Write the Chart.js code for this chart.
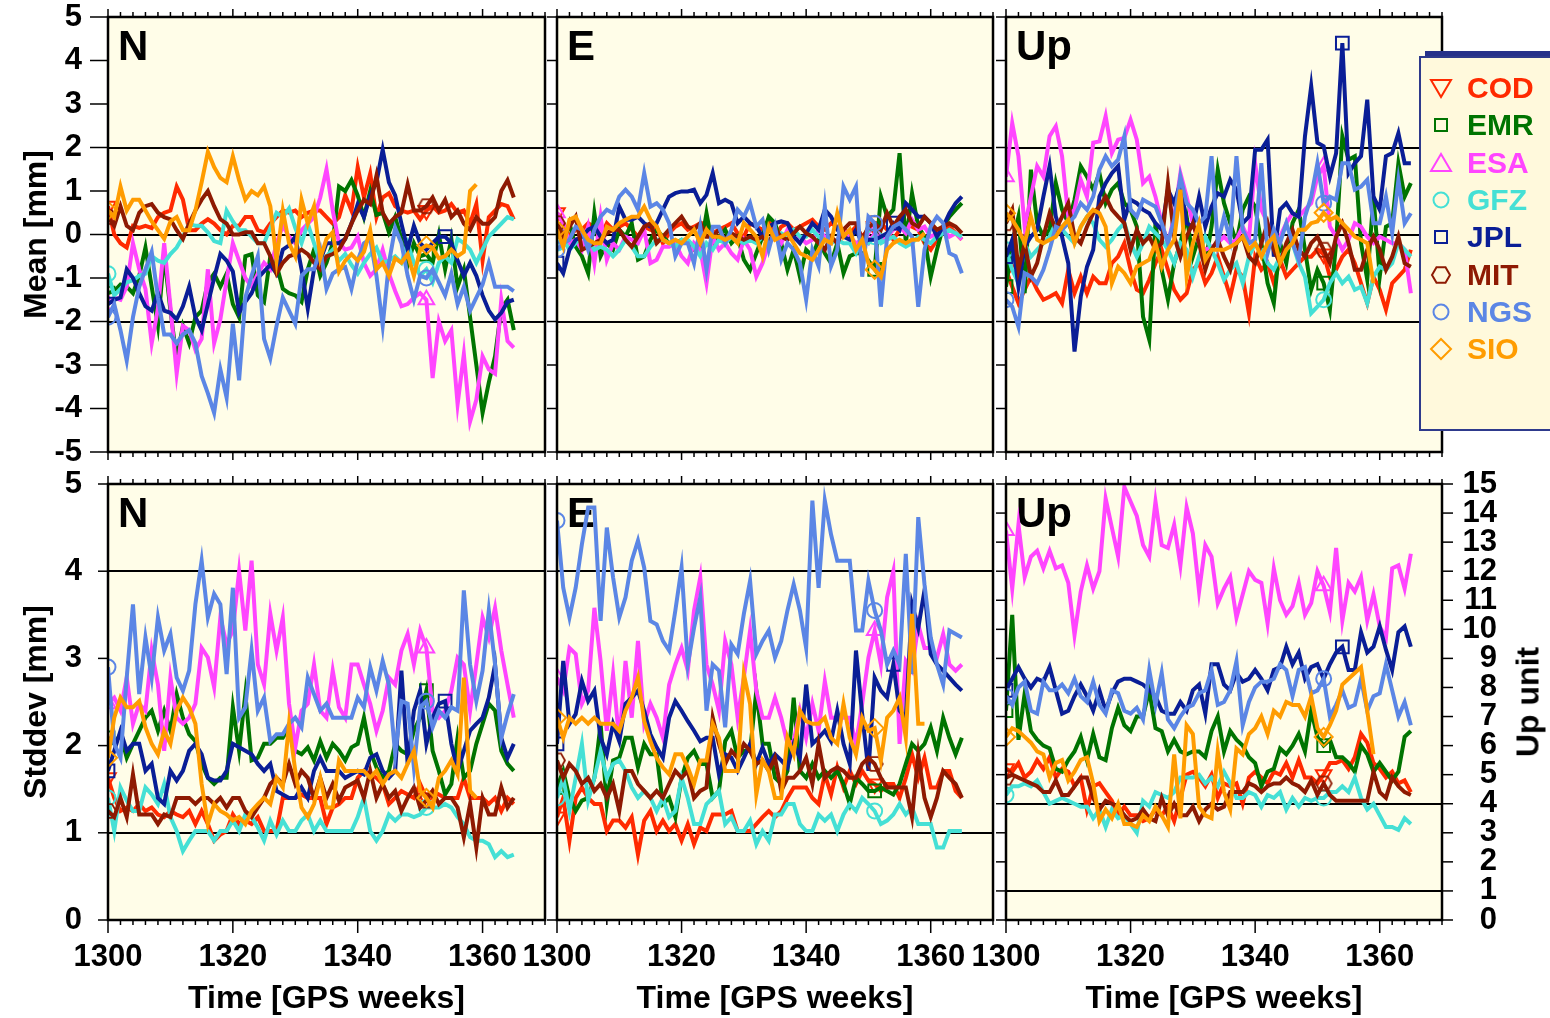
<!DOCTYPE html>
<html>
<head>
<meta charset="utf-8">
<title>Weekly orbit comparison: mean and stddev per centre</title>
<script src="https://cdn.jsdelivr.net/npm/chart.js@4.4.1/dist/chart.umd.min.js"></script>
<style>
  body { margin: 0; background: #fff; overflow: hidden; }
  #page { position: relative; width: 1550px; height: 1018px; overflow: hidden;
          font-family: 'Liberation Sans', Helvetica, Arial, sans-serif; }
  #page canvas { position: absolute; left: 0; top: 0; z-index: 1; }
  #legend { position: absolute; z-index: 5; left: 1419px; top: 56px; width: 150px; height: 371px;
            background: #fff9dc; border: 2px solid #2e3a8c; box-shadow: 6px -5px 0 #26318a; }
  #legend .item { position: absolute; left: 0; height: 36px; display: flex; align-items: center;
                  font-weight: bold; font-size: 30px; white-space: nowrap; }
  #legend svg { margin-left: 8px; margin-right: 14px; }
  #upunit { position: absolute; z-index: 5; left: 1528px; top: 702px; transform: translate(-50%, -50%) rotate(-90deg);
            font-weight: bold; font-size: 32px; white-space: nowrap; }
</style>
</head>
<body>
<div id="page">
  <div id="legend"></div>
  <div id="upunit">Up unit</div>
</div>
<script>
// GPS weeks of the weekly solutions
const weeks = [
  1300, 1301, 1302, 1303, 1304, 1305, 1306, 1307, 1308, 1309,
  1310, 1311, 1312, 1313, 1314, 1315, 1316, 1317, 1318, 1319,
  1320, 1321, 1322, 1323, 1324, 1325, 1326, 1327, 1328, 1329,
  1330, 1331, 1332, 1333, 1334, 1335, 1336, 1337, 1338, 1339,
  1340, 1341, 1342, 1343, 1344, 1345, 1346, 1347, 1348, 1349,
  1350, 1351, 1352, 1353, 1354, 1355, 1356, 1357, 1358, 1359,
  1360, 1361, 1362, 1363, 1364, 1365
];
const weekTicks = [1300, 1320, 1340, 1360];
const meanTicks = [-5, -4, -3, -2, -1, 0, 1, 2, 3, 4, 5];
const sdevTicks = [0, 1, 2, 3, 4, 5];
const upUnitTicks = [0, 1, 2, 3, 4, 5, 6, 7, 8, 9, 10, 11, 12, 13, 14, 15];
const meanRefs = [-2, 0, 2];
const sdevRefs = [1, 4];
const upUnitRefs = [1, 4];

const centres = ['COD', 'EMR', 'ESA', 'GFZ', 'JPL', 'MIT', 'NGS', 'SIO'];
const markWeek = [1351, 1351, 1351, 1351, 1354, 1351, 1351, 1351];

// ---- Mean, North [mm]
const codMeanN = [0.65, 0.0, -0.2, -0.3, 0.2, 0.15, 0.2, 0.15, 0.4, 0.5,
  0.55, 1.1, 0.8, 0.1, 0.1, 0.25, 0.35, 0.25, 0.1, 0.0,
  0.2, 0.2, 0.4, 0.4, 0.1, 0.05, 0.25, 0.4, 0.55, 0.5,
  0.55, 0.4, 0.5, 0.55, 0.55, 0.4, 0.25, 0.4, 0.9, 0.55,
  1.55, 0.85, 1.4, 0.4, 0.85, 0.95, 0.65, 0.55, 0.5, 0.55,
  0.35, 0.55, 0.65, 0.5, 0.55, 0.7, 0.5, 0.55, 0.25, 0.7,
  -0.6, 0.4, 0.55, 0.7, 0.65, 0.35];
const emrMeanN = [-1.35, -1.3, -1.15, -1.2, -1.35, -0.95, -0.3, -1.2, -2.1, -0.45,
  -1.75, -2.85, -2.1, -2.5, -1.9, -1.75, -1.1, -0.9, -1.2, -0.9,
  -1.6, -1.9, -0.5, -0.45, -1.4, -1.55, -0.5, -0.7, -1.25, -1.35,
  -1.4, -1.55, -0.8, -0.35, -0.95, -0.65, -0.2, 1.1, 1.0, 1.25,
  0.9, 0.4, 1.0, 0.45, 0.5, 0.05, 0.4, -0.1, -0.7, -0.2,
  -0.5, -0.45, -0.65, 0.0, -0.8, -0.1, -1.2, -0.8, -1.9, -3.0,
  -4.1, -3.4, -2.8, -1.7, -1.5, -2.2];
const esaMeanN = [-1.6, -1.45, -1.5, -1.2, -0.2, -0.8, -1.25, -2.5, -1.7, -0.2,
  -1.65, -3.2, -2.1, -2.2, -2.65, -2.4, -0.8, -2.5, -1.95, -1.05,
  -0.2, -0.6, -1.0, -1.2, -0.9, -0.65, -0.8, -0.2, 0.2, -0.05,
  -0.2, 0.1, 0.25, 0.4, 0.85, 1.5, 0.55, -0.2, -0.35, -0.3,
  -0.05, -0.65, -0.95, -0.8, -0.35, -0.9, -1.3, -1.65, -1.6, -1.45,
  -1.35, -1.5, -3.3, -2.0, -2.45, -2.2, -3.9, -2.75, -4.3, -3.8,
  -2.8, -3.1, -3.2, -1.5, -2.45, -2.6];
const gfzMeanN = [-0.9, -1.4, -1.25, -1.1, -1.05, -0.95, -0.9, -0.5, -0.6, -0.65,
  -0.45, -0.3, -0.05, 0.25, 0.2, 0.2, 0.05, -0.15, -0.2, 0.55,
  0.3, 0.1, 0.1, -0.05, -0.2, -0.2, 0.15, 0.5, 0.4, 0.6,
  0.15, -0.2, 0.25, -0.2, -0.65, -0.5, -0.35, -0.6, -0.45, -0.7,
  -0.9, -0.65, -0.45, -0.3, -0.65, -0.6, -0.5, -0.65, -0.2, -0.65,
  -0.95, -0.8, -1.1, -0.65, -0.5, -0.65, -0.1, -0.2, -0.35, -0.65,
  -0.35, -0.05, 0.1, 0.25, 0.4, 0.35];
const jplMeanN = [-1.6, -1.5, -1.45, -0.8, -1.0, -1.35, -1.65, -1.75, -1.35, -1.75,
  -1.8, -1.95, -1.65, -1.2, -1.9, -2.2, -1.6, -1.0, -0.45, -0.6,
  -0.85, -1.8, -1.55, -1.35, -1.0, -0.85, -0.7, -0.9, -0.35, -0.25,
  -0.05, -0.8, -1.7, -0.8, -0.6, -0.2, -0.2, -0.2, -0.1, 0.25,
  0.7, 0.4, 0.9, 1.2, 1.95, 1.2, 0.9, 0.25, -0.35, 0.2,
  -0.2, -0.35, -0.2, -0.05, -0.05, -0.2, -0.6, -0.95, -0.65, -0.95,
  -1.4, -1.75, -1.95, -1.8, -1.55, -1.5];
const mitMeanN = [0.4, 0.2, 0.65, 0.2, 0.1, 0.5, 0.65, 0.7, 0.5, 0.4,
  0.35, 0.1, -0.1, 0.25, 0.55, 0.8, 1.0, 0.65, 0.35, 0.25,
  0.0, 0.0, 0.05, 0.05, -0.2, -0.2, -0.5, -0.9, -0.65, -0.5,
  -0.45, -0.35, -0.45, -0.65, -0.8, -0.5, -0.45, -0.35, -0.1, 0.25,
  0.55, 0.8, 0.7, 1.35, 0.5, 0.25, 0.4, 0.5, 1.15, 0.55,
  0.55, 0.65, 0.85, 0.55, 0.8, 0.4, 0.55, 0.25, 0.1, 0.4,
  0.25, 0.25, 0.4, 1.0, 1.25, 0.85];
const ngsMeanN = [-1.9, -1.6, -2.2, -2.9, -1.9, -1.2, -0.8, -0.4, -1.45, -2.3,
  -2.3, -2.5, -2.3, -2.2, -2.5, -3.25, -3.65, -4.1, -3.1, -3.75,
  -2.05, -3.35, -1.45, -0.95, -0.5, -2.4, -2.85, -2.1, -1.45, -1.75,
  -2.05, -0.95, -0.8, -0.8, -0.35, -1.25, -0.9, -0.8, -0.75, -1.25,
  -0.6, -0.2, -0.1, -0.95, -2.1, -0.65, 0.15, -0.2, -0.95, -1.5,
  -0.95, -1.0, -0.8, -1.1, -1.4, -0.9, -1.6, -1.2, -1.75, -1.45,
  -1.15, -0.65, -1.2, -1.2, -1.2, -1.3];
const sioMeanN = [0.55, 0.4, 1.1, 0.55, 0.8, 0.8, 0.55, 0.3, 0.1, -0.1,
  0.3, 0.4, 0.1, 0.1, 0.55, 1.2, 1.9, 1.55, 1.3, 1.2,
  1.8, 1.25, 0.8, 1.0, 0.9, 1.1, 0.65, -0.6, 0.55, -0.2,
  -0.5, 0.8, 0.25, 0.65, -0.55, -0.1, 0.05, -0.85, -0.6, -0.45,
  -0.6, -0.4, 0.1, -0.8, -0.65, -0.95, -0.55, -0.65, -0.45, -0.95,
  -0.35, -0.25, -0.3, -0.55, -0.5, -0.35, -0.5, -0.4, 1.0, 1.15];

// ---- Mean, East [mm]
const codMeanE = [0.5, 0.26, -0.05, 0.11, 0.11, 0.26, 0.18, -0.05, 0.26, 0.11,
  0.18, 0.26, 0.11, -0.05, 0.18, 0.11, 0.18, -0.2, 0.03, 0.18,
  0.26, 0.11, 0.18, 0.26, 0.26, 0.03, 0.11, 0.18, 0.26, 0.03,
  -0.05, 0.26, 0.18, 0.11, 0.34, -0.05, 0.18, 0.26, 0.11, 0.18,
  0.26, 0.34, 0.18, 0.11, 0.26, 0.18, 0.11, 0.03, 0.18, -0.05,
  0.11, 0.18, 0.26, 0.11, -0.12, 0.11, 0.26, 0.18, 0.11, -0.2,
  -0.35, -0.12, 0.11, 0.18, 0.03, -0.12];
const emrMeanE = [0.11, -0.2, 0.26, -0.28, -0.5, -0.89, 0.49, -0.5, -0.2, -0.35,
  0.11, -0.05, 0.26, -0.58, -0.5, -0.12, 0.11, -0.05, -0.2, -0.2,
  -0.12, -0.2, -0.35, -0.35, 0.49, -0.28, -0.05, 0.11, -0.2, -0.05,
  -0.58, -0.81, -0.43, -0.05, 0.41, 0.26, -0.2, -0.81, -0.35, -0.97,
  -0.35, -0.5, -0.12, -0.43, -0.66, -0.2, -0.89, -0.5, -0.43, -0.43,
  -0.6, -0.8, 0.87, 0.41, 0.57, 1.87, -0.2, 0.95, 0.18, -0.05,
  -0.97, -0.35, 0.18, 0.41, 0.57, 0.72];
const esaMeanE = [0.5, 0.26, -0.2, -0.12, -0.35, 0.18, -0.66, 0.41, -0.58, -0.2,
  -0.35, -0.05, -0.12, -0.2, 0.11, -0.66, -0.58, -0.28, -0.28, -0.2,
  -0.5, -0.66, -0.2, -0.35, -1.12, -0.05, -0.35, -0.2, -0.43, -0.58,
  -0.12, -0.35, -0.97, -0.66, -0.2, -0.05, -0.2, 0.11, -0.12, -0.05,
  -0.2, -0.12, 0.11, -0.05, -0.2, -0.12, 0.11, -0.05, -0.2, -0.12,
  -0.2, 0.03, -0.12, -0.05, 0.11, 0.18, 0.03, 0.34, 0.11, 0.18,
  -0.05, 0.03, 0.11, -0.05, 0.03, -0.12];
const gfzMeanE = [-0.2, -0.12, -0.35, -0.2, -0.05, -0.12, -0.35, -0.28, -0.35, -0.5,
  -0.35, -0.12, -0.28, -0.5, -0.5, -0.28, -0.12, -0.12, -0.2, -0.28,
  -0.12, -0.12, -0.28, -0.5, -0.2, -0.35, -0.12, -0.2, -0.05, -0.12,
  -0.2, -0.12, -0.2, -0.05, -0.12, -0.05, 0.03, -0.05, 0.11, -0.05,
  -0.05, 0.11, -0.05, -0.12, -0.2, -0.12, -0.2, -0.2, -0.43, -0.12,
  -0.2, -0.05, -0.2, -0.12, -0.05, -0.2, -0.28, -0.2, -0.05, -0.12,
  -0.2, -0.05, 0.03, 0.11, 0.03, -0.05];
const jplMeanE = [-0.66, -0.89, -0.35, -0.12, -0.05, 0.11, 0.18, -0.05, -0.2, -0.12,
  0.64, 0.34, 0.34, 0.41, 0.26, 0.18, 0.26, 0.57, 0.87, 0.95,
  0.99, 0.99, 1.03, 0.72, 0.91, 1.41, 0.72, 0.8, 0.72, 0.26,
  0.41, 0.26, 0.18, -0.05, 0.18, 0.26, 0.3, 0.26, -0.05, -0.2,
  0.03, 0.26, 0.11, 0.57, 0.41, 0.11, -0.05, -0.12, 0.11, -0.2,
  -0.12, -0.12, -0.05, 0.03, 0.26, 0.11, 0.72, 0.57, 0.41, 0.41,
  0.26, -0.05, 0.18, 0.49, 0.72, 0.87];
const mitMeanE = [0.26, -0.05, 0.18, 0.41, -0.35, -0.28, -0.2, -0.12, 0.03, 0.11,
  0.11, -0.12, -0.28, -0.05, 0.18, 0.26, -0.2, -0.05, 0.11, 0.26,
  0.41, 0.18, 0.11, 0.26, -0.05, -0.05, 0.11, -0.12, 0.03, -0.05,
  -0.12, -0.05, -0.12, -0.05, -0.2, 0.11, -0.05, -0.12, 0.03, 0.18,
  0.03, -0.05, -0.2, -0.35, -0.05, -0.2, 0.11, 0.26, 0.26, -0.12,
  0.18, 0.26, 0.11, 0.49, 0.18, 0.41, 0.57, 0.26, 0.18, 0.41,
  0.26, 0.11, 0.18, 0.26, 0.18, 0.03];
const ngsMeanE = [-0.35, -0.2, -0.12, 0.18, 0.11, -0.35, 0.11, 0.41, 0.57, 0.49,
  0.87, 1.03, 0.87, 0.57, 1.41, 0.64, 0.72, 0.57, 0.26, -0.5,
  -0.2, -0.2, -0.66, 0.18, -0.81, 0.18, 0.18, -0.2, 0.11, 0.57,
  0.41, 0.72, 0.18, 0.34, -0.35, 0.18, -0.58, -0.2, -0.35, -0.66,
  -1.5, -0.35, -0.73, 0.64, -0.73, -0.35, 1.1, 0.8, 1.1, -0.97,
  0.41, 0.26, -1.66, -0.05, 0.18, 0.26, 0.11, -0.05, -1.66, -0.35,
  0.18, 0.41, 0.26, -0.43, -0.5, -0.89];
const sioMeanE = [0.11, -0.28, 0.34, 0.41, 0.11, -0.12, -0.2, -0.2, 0.18, 0.11,
  0.26, 0.34, 0.41, 0.41, 0.64, 0.34, 0.18, -0.12, -0.2, -0.12,
  -0.2, -0.05, 0.11, -0.2, 0.11, -0.05, -0.05, -0.12, -0.05, -0.2,
  0.26, 0.11, -0.05, -0.5, 0.18, -0.12, -0.05, 0.03, -0.2, -0.43,
  -0.5, -0.58, -0.35, -0.12, -0.2, 0.49, -0.05, 0.11, -0.35, -0.12,
  -0.66, -0.81, -0.97, -0.35, -0.2, -0.12, -0.2, -0.12, -0.12, 0.03];

// ---- Mean, Up [mm]
const codMeanUp = [-0.81, -1.2, -1.58, -1.27, -0.97, -1.27, -1.5, -1.43, -1.35, -1.58,
  -0.81, -1.35, -0.97, -1.35, -0.97, -1.12, -1.12, -0.66, -0.51, -0.2,
  -0.81, -1.27, -1.35, -1.04, -0.66, -0.35, -0.81, -1.27, -1.5, -1.35,
  -0.81, -0.66, -1.12, -0.89, -0.51, -0.97, -1.43, -0.81, -0.97, -1.81,
  -0.51, -0.81, -0.66, -1.12, -0.58, -0.97, -0.81, -0.66, -0.51, -0.51,
  -0.35, -0.45, -0.97, -0.81, -0.51, -0.35, -0.66, -1.12, -1.58, -0.97,
  -1.27, -1.73, -1.12, -0.97, -0.81, -0.35];
const emrMeanUp = [-1.2, -0.2, 0.41, -1.35, 1.49, 0.26, -0.05, 0.11, 1.18, 0.57,
  0.26, 0.8, 1.57, 1.33, 1.03, 1.41, 0.72, 1.03, 1.18, 0.72,
  0.57, 0.18, -1.89, -2.42, 0.26, -0.81, -1.5, -0.66, -0.2, 0.41,
  -0.51, -0.05, -0.66, 0.18, 1.49, 0.72, 0.26, -0.2, 0.57, 0.87,
  0.64, -0.2, -1.12, -1.58, -0.2, -0.66, 0.26, 0.57, -0.35, -1.27,
  -0.81, -1.12, -1.73, -0.2, 2.26, 1.72, 1.8, -0.2, -1.04, 0.87,
  -0.97, 0.18, 0.26, 1.64, 0.87, 1.18];
const esaMeanUp = [1.33, 2.56, 1.8, 0.18, 0.87, 1.57, 1.33, 2.26, 2.49, 1.8,
  0.41, 0.57, 1.26, 0.87, 2.11, 2.14, 2.72, 1.87, 2.18, 2.22,
  2.64, 2.18, 1.18, 1.33, 0.87, 0.26, -0.2, 0.41, 1.41, 0.87,
  0.26, -0.2, -0.35, -0.28, -0.2, -0.05, -0.2, -0.12, 0.18, -0.12,
  1.64, 0.57, 0.26, -0.2, -0.05, 0.26, 0.49, 0.41, 0.57, 0.72,
  1.33, 1.57, 0.18, -0.05, -0.35, -0.12, 0.26, 0.18, -0.05, -0.2,
  -0.05, -0.12, -0.2, -0.2, -0.35, -1.35];
const gfzMeanUp = [-0.35, -0.81, -1.12, -0.2, -0.51, -0.35, -0.2, -0.05, 0.26, 0.11,
  -0.05, -0.2, 0.18, 0.41, 0.26, -0.12, -0.28, -0.12, 0.11, 0.26,
  -0.2, -0.51, -0.2, 0.18, 0.03, -0.12, -0.35, -0.66, -0.2, -0.35,
  -0.97, -0.51, -0.05, -0.35, -0.66, -1.04, -0.81, -0.66, -1.12, -0.51,
  -0.2, -0.35, -0.66, -0.81, -0.51, -0.35, -0.2, -0.66, -0.97, -1.81,
  -1.66, -1.5, -1.12, -0.89, -1.12, -0.97, -1.27, -1.2, -1.58, -0.97,
  -0.74, -0.81, -0.66, -0.2, -0.35, -0.51];
const jplMeanUp = [-0.51, -0.12, -1.2, -0.28, -0.05, 0.11, 0.87, 1.57, 0.41, -0.05,
  -0.66, -2.69, -1.43, -0.74, -0.35, 0.87, 1.18, 1.41, 1.57, 0.34,
  0.8, 0.72, 0.57, 0.49, 0.26, 0.11, 1.03, 0.72, 1.18, 0.26,
  0.18, 0.87, 0.18, 0.64, 0.95, 0.87, 1.26, 1.03, 0.26, 0.41,
  1.95, 1.95, 2.18, -0.51, 0.57, 0.72, 0.49, 0.41, 2.26, 3.41,
  2.11, 2.03, 1.33, 1.87, 4.4, 1.41, 1.64, 1.8, 3.1, 0.87,
  0.57, 1.8, 1.87, 2.33, 1.64, 1.64];
const mitMeanUp = [0.26, 0.57, -0.81, -0.2, -0.97, -0.66, -0.05, 0.49, 0.11, 0.41,
  0.72, -0.05, -0.2, 0.18, 0.49, 0.64, 0.87, 0.57, 0.41, 0.26,
  -0.35, 0.11, -0.2, -0.05, -0.35, -0.2, 1.18, -0.05, -0.51, -0.05,
  0.26, -0.2, -0.81, -0.35, -0.12, -0.51, -0.81, -0.2, -0.05, -0.51,
  -0.66, -0.2, 0.26, -0.35, -0.66, -0.2, 0.11, -0.35, -0.51, -0.2,
  -0.05, -0.35, -0.66, -0.05, 0.26, -0.2, -0.81, -0.81, -0.35, -0.05,
  -0.35, -0.81, -0.51, -0.05, -0.66, -0.74];
const ngsMeanUp = [-1.5, -1.66, -2.12, -0.89, -0.97, -1.12, -0.81, -0.35, 0.18, 0.11,
  0.26, 0.41, 0.72, 0.57, 0.87, 1.49, 1.8, 1.57, 1.72, 2.26,
  0.57, 0.41, 0.8, 0.72, 0.64, 0.26, -0.2, 0.34, 1.33, 0.72,
  0.57, 0.26, 0.41, 1.8, -0.2, 0.41, -0.12, 1.8, 0.11, -0.2,
  -0.12, 1.64, -0.43, 0.11, -0.2, 0.26, -0.2, -0.58, 0.41, 0.87,
  1.64, 0.72, 0.87, 0.8, 1.64, 1.64, 1.03, 1.1, 1.26, 0.26,
  0.26, 0.87, 0.03, 1.26, 0.26, 0.49];
const sioMeanUp = [0.49, 0.34, 0.11, -0.2, 0.41, -0.12, -0.2, -0.12, -0.05, 0.18,
  0.34, -0.2, 0.18, 0.41, 0.57, 0.49, 0.18, -1.12, -0.74, -0.89,
  -1.12, -0.74, -0.66, -0.58, -0.2, -0.74, -0.35, -0.12, 1.03, -0.97,
  -0.2, 0.26, -0.58, -0.35, -0.35, -0.35, -0.28, -0.2, -0.05, -0.35,
  -0.2, -0.51, -0.2, -0.05, -0.66, -0.35, -0.2, 0.11, 0.11, 0.26,
  0.3, 0.5, 0.34, 0.41, 0.26, 0.11, -0.05, -0.12, -0.2, -1.12];

// ---- Stddev, North [mm]
const codSdevN = [1.63, 1.4, 1.25, 1.29, 1.25, 1.33, 1.25, 1.29, 1.21, 1.18,
  1.25, 1.21, 1.18, 1.25, 1.1, 1.25, 1.1, 0.91, 0.98, 1.02,
  1.21, 1.1, 1.14, 1.1, 1.18, 1.02, 1.02, 1.02, 1.4, 1.4,
  1.4, 1.44, 1.4, 1.4, 1.4, 1.1, 1.29, 1.33, 1.4, 1.4,
  1.63, 1.71, 1.67, 1.63, 1.56, 1.33, 1.4, 1.48, 1.44, 1.4,
  1.56, 1.4, 1.48, 1.44, 1.4, 1.4, 1.4, 1.63, 1.4, 1.4,
  1.4, 1.33, 1.4, 1.25, 1.4, 1.33];
const emrSdevN = [2.09, 2.02, 2.13, 1.86, 2.02, 2.17, 2.32, 2.4, 2.17, 2.4,
  2.17, 2.59, 2.32, 2.13, 2.05, 1.79, 1.63, 1.56, 1.63, 1.63,
  2.44, 1.94, 2.59, 1.83, 1.86, 2.02, 2.02, 2.09, 2.09, 2.21,
  1.94, 1.9, 1.98, 1.83, 2.05, 1.86, 2.02, 1.94, 1.83, 1.98,
  2.02, 2.32, 1.94, 1.75, 1.63, 1.71, 2.02, 1.94, 1.9, 2.17,
  2.32, 2.63, 1.94, 1.71, 1.44, 1.56, 2.09, 1.63, 1.71, 2.02,
  2.25, 2.48, 2.4, 1.94, 1.79, 1.71];
const esaSdevN = [2.48, 2.55, 2.4, 2.78, 2.25, 2.48, 2.4, 3.09, 2.7, 1.94,
  2.78, 2.32, 2.25, 2.32, 2.48, 3.12, 3.01, 2.67, 3.47, 3.16,
  3.32, 4.0, 3.32, 4.12, 2.93, 2.7, 3.51, 3.09, 3.47, 2.48,
  1.98, 2.4, 2.48, 2.93, 2.4, 2.32, 2.86, 2.44, 2.32, 2.93,
  2.93, 2.7, 2.48, 2.17, 2.4, 2.78, 2.7, 3.09, 3.28, 2.93,
  3.32, 3.12, 2.4, 2.32, 2.4, 2.63, 3.01, 2.93, 2.4, 2.93,
  3.47, 3.24, 3.58, 3.09, 2.7, 2.32];
const gfzSdevN = [1.4, 1.02, 1.52, 1.37, 1.25, 1.25, 1.52, 1.44, 1.33, 1.56,
  1.18, 1.02, 0.79, 0.91, 1.02, 1.02, 1.02, 0.91, 1.02, 1.02,
  1.14, 1.02, 1.21, 1.18, 1.06, 0.91, 1.14, 0.98, 1.14, 1.02,
  1.02, 1.14, 1.21, 1.02, 1.14, 1.02, 1.02, 1.02, 1.02, 1.02,
  1.18, 1.4, 1.02, 0.91, 1.02, 1.21, 1.14, 1.21, 1.21, 1.18,
  1.21, 1.29, 1.29, 1.29, 1.33, 1.29, 1.18, 1.1, 0.95, 0.91,
  0.91, 0.87, 0.72, 0.79, 0.72, 0.75];
const jplSdevN = [1.71, 1.94, 2.17, 1.94, 2.02, 2.02, 1.71, 1.79, 1.4, 1.33,
  1.71, 1.6, 1.71, 1.94, 2.02, 1.9, 1.63, 1.6, 1.6, 1.71,
  2.02, 1.98, 1.94, 1.9, 1.79, 1.71, 1.79, 1.48, 1.44, 1.4,
  1.4, 1.52, 1.4, 1.71, 1.86, 1.71, 1.71, 1.71, 1.63, 1.67,
  1.71, 1.67, 1.86, 1.9, 1.71, 1.63, 1.71, 2.86, 1.79, 2.4,
  2.63, 2.02, 2.32, 2.48, 2.51, 2.02, 1.71, 1.94, 2.17, 2.25,
  2.32, 2.55, 2.93, 2.09, 1.86, 2.02];
const mitSdevN = [1.25, 1.18, 1.4, 1.18, 1.67, 1.21, 1.21, 1.21, 1.1, 1.21,
  1.18, 1.4, 1.4, 1.4, 1.33, 1.4, 1.4, 1.33, 1.4, 1.29,
  1.4, 1.4, 1.25, 1.18, 1.29, 1.4, 1.56, 1.63, 1.56, 1.79,
  1.56, 1.71, 1.63, 1.4, 1.63, 1.4, 1.56, 1.37, 1.52, 1.56,
  1.6, 1.4, 1.71, 1.4, 1.56, 1.4, 1.48, 1.25, 1.4, 1.52,
  1.29, 1.37, 1.48, 1.33, 1.4, 1.4, 1.29, 0.95, 1.33, 0.83,
  1.4, 1.21, 1.21, 1.52, 1.29, 1.4];
const ngsSdevN = [2.9, 2.02, 1.86, 2.78, 3.62, 2.59, 3.24, 2.78, 3.47, 3.09,
  3.28, 2.78, 2.63, 2.86, 3.62, 4.12, 3.47, 3.74, 3.62, 2.82,
  3.81, 2.32, 2.44, 3.09, 2.4, 2.55, 2.05, 2.13, 2.13, 2.25,
  2.32, 2.21, 2.78, 2.59, 2.4, 2.48, 2.32, 2.32, 2.32, 2.32,
  2.55, 2.44, 2.9, 2.63, 2.97, 2.7, 1.9, 2.51, 2.48, 1.75,
  2.44, 2.51, 2.21, 2.4, 2.32, 2.44, 2.4, 3.78, 2.93, 2.51,
  2.86, 3.55, 2.93, 2.09, 2.36, 2.59];
const sioSdevN = [1.86, 2.32, 2.55, 2.44, 2.44, 2.51, 2.21, 2.02, 1.9, 2.17,
  2.02, 2.4, 2.55, 2.44, 2.25, 1.56, 1.1, 1.33, 1.25, 1.21,
  1.14, 1.18, 1.1, 1.25, 1.33, 1.4, 1.33, 1.63, 1.52, 2.25,
  1.71, 1.29, 1.18, 1.33, 1.63, 1.29, 1.29, 1.83, 1.71, 1.71,
  1.71, 1.71, 1.63, 1.71, 1.56, 1.67, 1.71, 1.63, 1.79, 1.94,
  1.48, 1.4, 1.29, 1.63, 1.71, 1.83, 1.67, 2.78, 1.48, 1.4];

// ---- Stddev, East [mm]
const codSdevE = [1.18, 1.4, 0.91, 1.4, 1.52, 1.4, 1.33, 1.33, 1.02, 1.14,
  1.14, 1.06, 1.18, 0.75, 1.14, 1.25, 1.02, 1.14, 1.02, 1.1,
  0.91, 1.1, 0.87, 1.06, 1.02, 1.21, 1.21, 1.21, 1.25, 1.02,
  1.02, 1.02, 1.1, 1.18, 1.25, 1.18, 1.25, 1.4, 1.52, 1.52,
  1.52, 1.4, 1.33, 1.67, 1.44, 1.75, 1.52, 1.71, 1.56, 1.71,
  1.6, 1.56, 1.48, 1.56, 1.56, 1.4, 1.63, 1.9, 1.63, 1.86,
  1.52, 1.52, 1.71, 1.71, 1.48, 1.4];
const emrSdevE = [1.52, 1.71, 1.4, 1.25, 1.37, 1.4, 1.63, 2.25, 1.33, 1.83,
  1.86, 2.09, 2.09, 1.75, 2.02, 1.9, 1.9, 1.33, 1.4, 1.18,
  1.63, 1.86, 1.94, 1.79, 1.79, 1.4, 1.48, 2.05, 2.17, 1.86,
  1.94, 1.94, 2.63, 2.02, 2.02, 1.63, 1.56, 1.71, 2.55, 1.71,
  1.63, 1.79, 1.63, 1.71, 1.63, 1.71, 1.56, 1.33, 1.63, 1.56,
  1.48, 1.48, 1.52, 1.48, 1.44, 1.56, 1.79, 2.02, 1.94, 2.02,
  2.21, 1.94, 2.32, 2.09, 1.9, 2.09];
const esaSdevE = [2.78, 2.63, 3.12, 3.05, 2.48, 2.63, 3.58, 2.97, 2.17, 2.82,
  2.05, 2.97, 2.32, 3.2, 2.25, 2.48, 2.32, 2.09, 2.7, 2.93,
  3.12, 2.86, 3.55, 3.93, 2.93, 2.7, 2.4, 3.2, 2.93, 2.32,
  2.78, 3.32, 2.63, 2.32, 2.32, 2.55, 2.32, 2.02, 2.05, 2.4,
  2.09, 2.48, 2.17, 2.74, 2.32, 2.32, 2.32, 2.32, 2.02, 2.48,
  3.01, 3.32, 2.93, 3.7, 4.0, 2.02, 2.97, 2.86, 3.39, 3.12,
  3.12, 3.01, 3.28, 2.93, 2.86, 2.93];
const gfzSdevE = [1.4, 1.63, 1.25, 1.63, 2.02, 1.37, 1.63, 1.94, 1.63, 1.79,
  1.83, 1.71, 1.52, 1.4, 1.48, 1.4, 1.25, 1.4, 1.18, 1.25,
  1.63, 1.4, 1.1, 1.1, 1.33, 1.4, 1.48, 1.1, 1.18, 1.02,
  1.02, 1.14, 0.87, 1.02, 0.91, 1.21, 1.21, 1.33, 1.33, 1.1,
  1.02, 1.02, 1.21, 1.14, 1.21, 1.02, 1.21, 1.33, 1.25, 1.4,
  1.33, 1.25, 1.1, 1.14, 1.21, 1.33, 1.21, 1.29, 1.1, 1.1,
  1.1, 0.83, 0.83, 1.02, 1.02, 1.02];
const jplSdevE = [2.02, 2.97, 2.25, 2.36, 2.74, 2.51, 2.63, 2.09, 1.9, 2.25,
  2.05, 2.48, 2.55, 2.63, 2.4, 2.13, 1.98, 1.86, 2.32, 2.51,
  2.4, 2.28, 2.17, 2.05, 2.09, 2.09, 1.67, 1.9, 1.86, 1.71,
  1.86, 2.02, 1.79, 1.98, 1.79, 1.9, 1.83, 1.75, 2.02, 1.86,
  2.7, 2.02, 2.09, 2.17, 2.05, 2.4, 2.02, 1.79, 3.09, 2.36,
  1.71, 2.78, 2.63, 2.55, 2.93, 2.4, 2.32, 3.62, 3.35, 3.78,
  3.05, 2.93, 2.86, 2.78, 2.7, 2.63];
const mitSdevE = [1.83, 1.63, 1.79, 1.71, 1.56, 1.63, 1.48, 1.56, 1.4, 1.56,
  1.25, 1.71, 1.71, 1.56, 1.48, 1.4, 1.48, 1.4, 1.56, 1.71,
  1.63, 1.71, 1.4, 1.48, 1.52, 2.32, 2.02, 1.79, 1.94, 1.86,
  2.02, 1.94, 1.79, 1.83, 1.71, 1.86, 1.48, 1.63, 1.63, 1.71,
  1.86, 1.56, 2.02, 1.63, 1.71, 1.75, 1.71, 1.63, 1.63, 1.79,
  1.86, 1.79, 1.63, 1.52, 1.52, 1.52, 1.52, 1.18, 1.9, 1.4,
  1.18, 1.4, 1.71, 1.63, 1.56, 1.4];
const ngsSdevE = [4.58, 3.81, 3.47, 3.81, 4.31, 4.73, 4.73, 3.43, 4.5, 3.93,
  3.47, 3.7, 4.12, 4.35, 4.04, 3.43, 3.39, 3.2, 3.09, 3.55,
  4.04, 2.93, 3.35, 3.7, 2.4, 2.93, 2.86, 2.21, 3.16, 3.05,
  3.51, 3.89, 3.05, 3.2, 3.32, 3.01, 3.2, 3.55, 3.85, 3.55,
  3.12, 4.81, 3.81, 4.81, 4.42, 4.12, 4.12, 4.12, 3.32, 3.32,
  3.89, 3.55, 3.32, 2.93, 3.09, 2.93, 4.2, 2.82, 4.62, 3.85,
  3.24, 2.93, 2.7, 3.32, 3.28, 3.24];
const sioSdevE = [2.32, 2.09, 2.32, 2.25, 2.32, 2.25, 2.32, 2.25, 2.25, 2.25,
  2.17, 2.4, 2.55, 2.78, 2.28, 2.05, 1.86, 1.75, 1.67, 1.9,
  1.9, 1.75, 1.56, 1.83, 1.83, 2.25, 2.09, 1.71, 1.71, 1.71,
  2.82, 2.48, 1.44, 1.83, 1.71, 1.4, 1.4, 2.09, 1.9, 2.4,
  2.28, 2.25, 2.25, 2.32, 2.09, 2.02, 2.48, 2.09, 1.9, 2.32,
  2.17, 2.2, 1.83, 2.32, 2.4, 2.55, 2.09, 3.51, 2.25, 2.25];

// ---- Stddev, Up [Up unit]
const codSdevUp = [5.2, 5.1, 5.4, 4.9, 5.1, 5.5, 5.2, 5.6, 4.9, 5.2,
  5.1, 4.6, 4.9, 3.8, 4.6, 4.7, 4.4, 4.1, 3.6, 3.9,
  3.6, 3.6, 3.4, 3.5, 3.8, 3.6, 3.9, 3.4, 4.2, 5.0,
  5.1, 4.9, 4.6, 5.0, 4.2, 4.7, 4.6, 4.7, 4.0, 4.9,
  5.1, 4.9, 4.7, 5.1, 5.0, 5.4, 4.9, 5.5, 4.9, 4.9,
  4.7, 5.0, 5.4, 5.4, 5.5, 5.2, 5.6, 6.4, 6.1, 5.4,
  5.2, 4.9, 5.1, 4.7, 4.8, 4.4];
const emrSdevUp = [7.2, 10.5, 6.2, 7.8, 6.5, 6.2, 6.0, 5.9, 5.2, 5.1,
  5.5, 5.8, 6.3, 5.5, 6.4, 5.6, 5.5, 6.6, 7.3, 6.7,
  6.5, 7.0, 7.0, 7.9, 6.6, 6.5, 5.8, 6.2, 5.8, 5.7,
  5.8, 5.8, 5.6, 6.5, 7.0, 5.8, 6.5, 6.2, 6.0, 5.6,
  5.4, 4.6, 5.1, 5.2, 5.9, 5.7, 6.0, 6.4, 5.8, 7.2,
  6.3, 6.0, 6.2, 5.6, 5.6, 5.4, 5.1, 6.0, 5.7, 5.1,
  5.4, 5.1, 4.8, 5.1, 6.3, 6.5];
const esaSdevUp = [13.4, 11.4, 13.6, 11.8, 12.5, 12.7, 12.1, 12.7, 12.1, 12.2,
  11.6, 9.8, 11.3, 12.2, 11.4, 12.0, 14.5, 13.5, 12.5, 14.9,
  14.4, 13.9, 12.9, 12.5, 14.4, 12.9, 12.8, 13.6, 12.2, 14.2,
  13.3, 11.3, 12.9, 12.5, 10.9, 11.4, 11.8, 10.4, 11.2, 12.0,
  11.7, 11.6, 10.2, 12.1, 11.0, 10.5, 10.8, 11.6, 10.5, 10.9,
  12.0, 11.5, 10.6, 12.8, 10.3, 11.6, 11.3, 11.8, 10.3, 11.2,
  10.1, 9.7, 12.1, 12.2, 11.4, 12.6];
const gfzSdevUp = [4.3, 4.6, 4.6, 4.7, 4.6, 4.8, 4.4, 4.0, 4.1, 4.2,
  4.1, 4.0, 3.9, 3.9, 3.5, 3.8, 3.2, 3.8, 3.5, 3.6,
  3.3, 3.0, 4.1, 3.9, 4.4, 4.3, 4.2, 4.4, 4.9, 4.9,
  4.9, 5.0, 4.7, 4.9, 4.6, 5.1, 4.7, 4.2, 4.2, 4.4,
  4.3, 3.9, 4.3, 4.2, 4.4, 3.8, 4.2, 3.9, 4.2, 4.1,
  4.2, 4.2, 4.4, 4.4, 4.6, 4.4, 4.9, 4.2, 3.8, 4.0,
  3.6, 3.2, 3.2, 3.1, 3.5, 3.3];
const jplSdevUp = [7.9, 8.3, 8.7, 8.3, 8.0, 8.3, 8.2, 8.7, 7.9, 7.1,
  7.2, 7.7, 8.1, 7.7, 7.2, 7.9, 7.2, 7.8, 8.2, 8.3,
  8.3, 8.2, 8.1, 7.9, 7.7, 7.2, 7.1, 7.1, 7.5, 7.2,
  7.9, 8.1, 7.1, 8.8, 8.8, 8.1, 7.9, 8.5, 8.2, 8.3,
  8.6, 8.3, 7.9, 8.6, 8.7, 9.4, 8.8, 9.2, 8.3, 8.7,
  8.8, 8.3, 8.8, 9.2, 9.4, 8.6, 8.6, 9.9, 9.2, 9.4,
  10.1, 9.3, 8.6, 9.9, 10.1, 9.4];
const mitSdevUp = [4.9, 5.0, 4.9, 4.8, 4.7, 4.6, 4.4, 4.4, 4.8, 4.3,
  4.3, 4.6, 4.9, 4.9, 4.2, 3.8, 4.1, 4.0, 3.9, 3.6,
  3.4, 3.5, 3.8, 3.5, 3.4, 4.2, 3.6, 4.0, 3.6, 3.6,
  3.9, 3.4, 3.8, 4.0, 3.8, 3.9, 4.4, 4.4, 4.4, 4.7,
  4.6, 4.4, 4.6, 4.7, 4.7, 4.9, 4.7, 4.6, 4.4, 4.8,
  4.3, 4.7, 4.3, 4.1, 4.1, 4.1, 4.1, 4.1, 4.1, 5.1,
  4.4, 4.2, 4.9, 4.6, 4.4, 4.3];
const ngsSdevUp = [7.7, 7.4, 8.0, 8.2, 7.2, 7.1, 8.2, 7.9, 7.9, 8.1,
  7.8, 8.3, 7.7, 7.5, 8.2, 7.4, 7.1, 7.9, 7.8, 7.2,
  7.1, 7.3, 6.9, 8.6, 7.4, 8.5, 6.9, 6.6, 7.0, 7.3,
  7.4, 7.8, 7.9, 8.6, 7.4, 7.5, 7.9, 8.9, 6.7, 7.5,
  8.0, 8.2, 8.2, 8.3, 8.8, 8.6, 7.7, 8.6, 8.7, 7.8,
  7.9, 8.3, 7.0, 7.4, 7.9, 7.3, 7.4, 8.3, 7.2, 7.7,
  7.8, 8.8, 7.9, 7.0, 7.5, 6.7];
const sioSdevUp = [6.3, 6.6, 6.5, 6.3, 6.1, 5.8, 5.7, 4.9, 5.4, 5.5,
  4.8, 5.1, 5.5, 5.6, 4.7, 3.4, 3.8, 3.5, 4.0, 3.3,
  3.3, 3.2, 3.6, 3.4, 3.9, 3.6, 3.2, 5.7, 3.5, 6.7,
  6.4, 3.9, 3.6, 3.5, 5.8, 4.4, 3.8, 5.9, 5.7, 6.4,
  6.6, 7.0, 6.4, 7.2, 7.0, 7.5, 7.4, 7.4, 7.0, 7.7,
  6.6, 6.3, 6.7, 7.2, 8.1, 8.3, 8.5, 8.7, 7.2, 5.7];

// ---- look of each centre
const FONT = "'Liberation Sans', Helvetica, Arial, sans-serif";
const colours = ['#ff2a00', '#007400', '#ff45ff', '#45e0d5', '#0a1e96', '#8e1a02', '#5b86e5', '#ff9c00'];

function hexagonMark(colour) {
  const c = document.createElement('canvas');
  c.width = 20; c.height = 20;
  const g = c.getContext('2d');
  g.strokeStyle = colour;
  g.lineWidth = 1.8;
  g.beginPath();
  for (let k = 0; k < 6; k++) {
    const a = Math.PI / 3 * k;
    const px = 10 + 8 * Math.cos(a), py = 10 + 8 * Math.sin(a);
    if (k === 0) g.moveTo(px, py); else g.lineTo(px, py);
  }
  g.closePath();
  g.stroke();
  return c;
}

const pointStyles = ['triangle', 'rect', 'triangle', 'circle', 'rect', hexagonMark(colours[5]), 'circle', 'rectRot'];
const pointRotations = [180, 0, 0, 0, 0, 0, 0, 0];
const pointSizes = [9, 9, 9, 7.5, 9, 8, 7.5, 9];

const panels = [
  { label: 'N',  row: 0, col: 0, box: [108, 17, 545, 452],   series: [codMeanN, emrMeanN, esaMeanN, gfzMeanN, jplMeanN, mitMeanN, ngsMeanN, sioMeanN] },
  { label: 'E',  row: 0, col: 1, box: [557, 17, 993, 452],   series: [codMeanE, emrMeanE, esaMeanE, gfzMeanE, jplMeanE, mitMeanE, ngsMeanE, sioMeanE] },
  { label: 'Up', row: 0, col: 2, box: [1006, 17, 1442, 452], series: [codMeanUp, emrMeanUp, esaMeanUp, gfzMeanUp, jplMeanUp, mitMeanUp, ngsMeanUp, sioMeanUp] },
  { label: 'N',  row: 1, col: 0, box: [108, 484, 545, 920],  series: [codSdevN, emrSdevN, esaSdevN, gfzSdevN, jplSdevN, mitSdevN, ngsSdevN, sioSdevN] },
  { label: 'E',  row: 1, col: 1, box: [557, 484, 993, 920],  series: [codSdevE, emrSdevE, esaSdevE, gfzSdevE, jplSdevE, mitSdevE, ngsSdevE, sioSdevE] },
  { label: 'Up', row: 1, col: 2, box: [1006, 484, 1442, 920], series: [codSdevUp, emrSdevUp, esaSdevUp, gfzSdevUp, jplSdevUp, mitSdevUp, ngsSdevUp, sioSdevUp], upUnit: true }
];

const tickFont = { family: FONT, size: 31, weight: 'bold', lineHeight: 1 };
const titleFont = { family: FONT, size: 32, weight: 'bold', lineHeight: 1.2 };
const W = 1550, H = 1018;

// background, panel letter, frame and the small tick marks round each panel
const panelFrame = {
  id: 'panelFrame',
  beforeDraw(chart) {
    const { ctx, chartArea: a } = chart;
    ctx.save();
    ctx.fillStyle = '#fffde8';
    ctx.fillRect(a.left, a.top, a.width, a.height);
    ctx.restore();
  },
  beforeDatasetsDraw(chart, args, opts) {
    const { ctx, chartArea: a } = chart;
    ctx.save();
    ctx.font = 'bold 42px ' + FONT;
    ctx.fillStyle = '#000';
    ctx.textBaseline = 'alphabetic';
    ctx.fillText(opts.label, a.left + 10, a.top + 43);
    ctx.restore();
  },
  afterDraw(chart, args, opts) {
    const { ctx, chartArea: a } = chart;
    const xs = chart.scales.x;
    const ys = chart.scales[opts.tickAxis];
    const line = (x1, y1, x2, y2) => { ctx.beginPath(); ctx.moveTo(x1, y1); ctx.lineTo(x2, y2); ctx.stroke(); };
    ctx.save();
    ctx.strokeStyle = '#000';
    ctx.lineWidth = 1.5;
    for (let w = xs.min; w <= xs.max; w += 2) {
      const px = xs.getPixelForValue(w);
      const major = w % 20 === 0;
      line(px, a.bottom, px, a.bottom + (major ? (opts.bottomRow ? 13 : 8) : 5));
      line(px, a.top, px, a.top - (major ? 8 : 5));
    }
    for (const t of ys.ticks) {
      const py = ys.getPixelForValue(t.value);
      line(a.left - opts.leftTick, py, a.left, py);
      if (opts.rightTicks) line(a.right, py, a.right + 11, py);
    }
    ctx.lineWidth = 2.5;
    ctx.strokeRect(a.left, a.top, a.width, a.height);
    ctx.restore();
  }
};

// only the reference levels get a visible grid line; the tick gap keeps labels off the frame
function refGrid(refs, gap) {
  return {
    drawTicks: true,
    tickLength: gap,
    tickColor: 'rgba(0,0,0,0)',
    lineWidth: 2,
    color: ctx => (ctx.tick && refs.includes(ctx.tick.value)) ? '#000' : 'rgba(0,0,0,0)'
  };
}

function drawPanel(p) {
  const canvas = document.createElement('canvas');
  canvas.width = W; canvas.height = H;
  document.getElementById('page').appendChild(canvas);

  const [left, top, right, bottom] = p.box;
  const bottomRow = p.row === 1;
  const firstCol = p.col === 0;
  const xAxisH = bottomRow ? 98 : 0;
  const upAxisW = p.upUnit ? 55 : 0;

  const scales = {
    x: {
      type: 'linear', min: 1300, max: 1370, position: 'bottom',
      afterBuildTicks: s => { s.ticks = weekTicks.map(v => ({ value: v })); },
      afterFit: s => { s.height = xAxisH; },
      grid: { display: false, drawTicks: false },
      border: { display: false },
      ticks: { display: bottomRow, padding: 22, font: tickFont, color: '#000',
               maxRotation: 0, autoSkip: false, callback: v => String(v) },
      title: { display: bottomRow, text: 'Time [GPS weeks]', font: titleFont, color: '#000',
               padding: { top: 0, bottom: 0 } }
    }
  };

  if (p.upUnit) {
    scales.yUp = {
      type: 'linear', position: 'right', min: 0, max: 15,
      afterBuildTicks: s => { s.ticks = upUnitTicks.map(v => ({ value: v })); },
      afterFit: s => { s.width = upAxisW; },
      grid: refGrid(upUnitRefs, 10),
      border: { display: false },
      ticks: { font: tickFont, color: '#000', crossAlign: 'far', padding: 0, autoSkip: false,
               callback: v => String(v) }
    };
  } else {
    const yTicks = bottomRow ? sdevTicks : meanTicks;
    scales.y = {
      type: 'linear', position: 'left',
      min: bottomRow ? 0 : -5, max: 5,
      afterBuildTicks: s => { s.ticks = yTicks.map(v => ({ value: v })); },
      afterFit: s => { s.width = firstCol ? left : 0; },
      grid: refGrid(bottomRow ? sdevRefs : meanRefs, 26),
      border: { display: false },
      ticks: { display: firstCol, padding: 0, font: tickFont, color: '#000', autoSkip: false,
               callback: v => String(v) },
      title: { display: firstCol, text: bottomRow ? 'Stddev [mm]' : 'Mean [mm]', font: titleFont,
               color: '#000', padding: { top: 18, bottom: 0 } }
    };
  }

  const datasets = p.series.map((values, i) => ({
    label: centres[i],
    data: values,
    yAxisID: p.upUnit ? 'yUp' : 'y',
    borderColor: colours[i],
    borderWidth: 4,
    borderJoinStyle: 'miter',
    tension: 0,
    fill: false,
    order: centres.length - i,
    pointStyle: pointStyles[i],
    pointRotation: pointRotations[i],
    pointRadius: ctx => (ctx.dataIndex === 0 || weeks[ctx.dataIndex] === markWeek[i]) ? pointSizes[i] : 0,
    pointHoverRadius: 0,
    pointBorderColor: colours[i],
    pointBackgroundColor: 'rgba(0,0,0,0)',
    pointBorderWidth: 2
  }));

  new Chart(canvas, {
    type: 'line',
    data: { labels: weeks, datasets },
    options: {
      responsive: false,
      animation: false,
      devicePixelRatio: 1,
      events: [],
      layout: {
        padding: {
          left: firstCol ? 0 : left,
          top: top,
          right: W - right - upAxisW,
          bottom: H - bottom - xAxisH
        }
      },
      scales,
      plugins: {
        legend: { display: false },
        tooltip: { enabled: false },
        panelFrame: {
          label: p.label,
          tickAxis: p.upUnit ? 'yUp' : 'y',
          leftTick: (firstCol && !bottomRow) ? 18 : 10,
          rightTicks: !!p.upUnit,
          bottomRow
        }
      }
    },
    plugins: [panelFrame]
  });
}

function symbolSvg(i) {
  const c = colours[i];
  const common = `fill="none" stroke="${c}" stroke-width="2"`;
  const shapes = [
    `<polygon points="2,4 22,4 12,21" ${common}/>`,
    `<rect x="6" y="6" width="12" height="12" ${common}/>`,
    `<polygon points="2,20 22,20 12,3" ${common}/>`,
    `<circle cx="12" cy="12" r="7.5" ${common}/>`,
    `<rect x="6" y="6" width="12" height="12" ${common}/>`,
    `<polygon points="21,12 16.5,19.8 7.5,19.8 3,12 7.5,4.2 16.5,4.2" ${common}/>`,
    `<circle cx="12" cy="12" r="7.5" ${common}/>`,
    `<polygon points="12,2 22,12 12,22 2,12" ${common}/>`
  ];
  return `<svg width="24" height="24" viewBox="0 0 24 24">${shapes[i]}</svg>`;
}

function buildLegend() {
  const box = document.getElementById('legend');
  centres.forEach((name, i) => {
    const item = document.createElement('div');
    item.className = 'item';
    item.style.top = (12 + 37.3 * i) + 'px';
    item.style.color = colours[i];
    item.innerHTML = symbolSvg(i) + '<span>' + name + '</span>';
    box.appendChild(item);
  });
}

panels.forEach(drawPanel);
buildLegend();
</script>
</body>
</html>
